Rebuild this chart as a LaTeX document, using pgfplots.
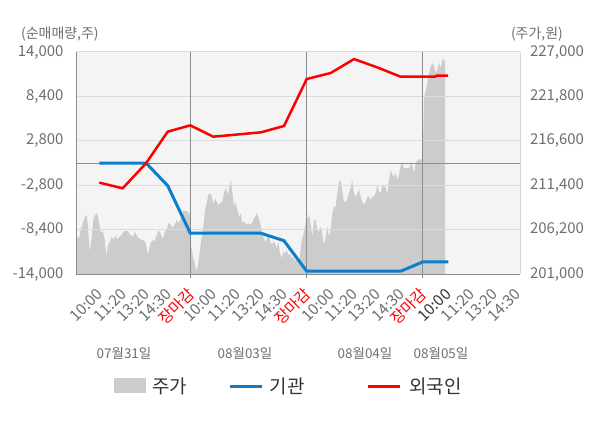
\documentclass[border=0pt]{standalone}
\usepackage{pgfplots}
\pgfplotsset{compat=1.18}
\usepackage{fontspec}
\setmainfont{Noto Sans CJK KR}
\definecolor{bgc}{HTML}{F4F4F4}
\definecolor{gridc}{HTML}{DCDCDC}
\definecolor{darkc}{HTML}{8C8C8C}
\definecolor{lightline}{HTML}{D8D8D8}
\definecolor{areac}{HTML}{CCCCCC}
\definecolor{bluec}{HTML}{0B7FCB}
\definecolor{redc}{HTML}{FF0000}
\definecolor{tickc}{HTML}{6E6E6E}
\definecolor{legc}{HTML}{333333}
\begin{document}
\begin{tikzpicture}[x=1bp,y=1bp]
\useasboundingbox (0,0) rectangle (600,428);
% ---------- price axis (right) ----------
\begin{axis}[
  at={(76bp,154bp)}, anchor=south west,
  width=444bp, height=222bp, scale only axis,
  xmin=76, xmax=520, ymin=201000, ymax=227000,
  axis background/.style={fill=bgc},
  axis x line=none,
  axis y line*=right,
  y axis line style={draw=lightline, -},
  ytick={201000,206200,211400,216600,221800,227000},
  major tick length=0pt,
  scaled y ticks=false,
  yticklabel style={font=\fontsize{15}{17}\selectfont, text=tickc, xshift=6.5bp},
  /pgf/number format/fixed,
  /pgf/number format/1000 sep={,},
  /pgf/number format/assume math mode=true,
]
\addplot[fill=areac, draw=none] coordinates {
(75.7,201000)
(75.7,203600)(77.3,205350)(79,205200)(80.7,206150)(83,206950)(85,207700)(86.7,207900)(88,206550)
(89.7,203600)(91.3,204800)(93.3,207300)(95,207900)(97.3,208100)(99,206950)(100.7,205950)(103,205950)
(104.7,205000)(106.3,203050)(108,204400)(110,204800)(111.7,205350)(113.3,205000)(115.7,205550)(117.3,205000)
(119.3,205350)(121.7,205550)(124,206050)(126.3,206050)(128.3,205950)(130.7,205550)(133,205350)(135,205950)
(137.3,205350)(139,205200)(141.3,205000)(144,204900)(145.7,204600)(148,203200)(150,204400)(152.3,205000)
(154,204800)(156.3,205350)(158,206050)(160,205950)(161.7,205350)(163.3,205200)(164.7,205950)(166.7,206150)
(168.3,206950)(170.7,206800)(172.3,206350)(174.7,206750)(176.7,207300)(179,206950)(181.3,207700)(183.3,208400)
(185.7,208400)(188,208300)(190,207900)(191,204200)(192.3,203600)(193.3,202850)(194.7,202250)(196.3,201250)
(198,202050)(200,203800)(201.7,205350)(203.3,206550)(205,208500)(206.7,209300)(208.3,210250)(210,210450)
(211.7,210050)(213.3,209100)(215,209850)(216.7,209450)(218.3,209100)(220,209300)(222.3,209450)(224.3,210650)
(226,211050)(227.7,210250)(229.3,211200)(230.7,212000)(232.3,210650)(234,208900)(235.7,209450)(237.3,208500)
(239,207700)(240.7,208100)(242.3,206950)(244.3,207150)(246,206750)(248.3,206950)(250.7,206750)(252.7,207150)
(255,207700)(256.7,208100)(258.3,207700)(260,206950)(261.7,206150)(263.3,205350)(265,204800)(266.7,205000)
(268.3,205550)(270,205000)(271.7,204400)(273.3,204800)(275,204600)(276.7,204000)(278.3,204800)(280,203400)
(281.7,202850)(283.3,203600)(285,203400)(286.7,203800)(288.3,203200)(290,203400)(291.7,202850)(293.3,203050)
(295,202450)(296.7,203050)(298.3,202050)(300,203200)(301.7,205000)(303.3,205550)(305,206550)(306.7,207550)
(308.3,207500)(309,208100)(310.7,206750)(312.3,205350)(314,207300)(315.7,207300)(317.3,206150)(319,205950)
(320.7,206550)(322.3,205750)(324,204400)(325.7,205350)(327.3,206550)(329,205350)(330.7,206150)(332.3,208100)
(334,208900)(335.7,208900)(337.3,210450)(339,211800)(340.7,212000)(342.3,210650)(344,209450)(345.7,209450)
(347.3,209850)(349,210450)(350.7,211200)(352.3,212000)(354,210450)(355.7,210050)(357.3,210450)(359,210850)
(360.7,210050)(362.3,209450)(364,209100)(365.7,209450)(367.3,210050)(369,210050)(370.7,209650)(372.3,210050)
(374,210050)(375.7,210450)(377.3,211400)(379,210650)(380.7,210450)(382.3,211400)(384,211200)(385.7,211200)
(387.3,210250)(389,212000)(390.7,213200)(392.3,212600)(394,212400)(395.7,212800)(397.3,212000)(399,212600)
(400.7,213750)(402.3,213950)(404,213400)(405.7,213400)(407.3,213400)(409,213400)(410.7,213950)(412.3,213750)
(414,212800)(415.7,213950)(417.3,214350)(419,214450)(420.7,214350)(422.7,214550)(424,221600)(426,222550)
(428.3,224100)(430.7,225300)(432.7,225700)(434.7,225100)(436,224500)(437.3,224900)(439,225700)(440.7,225100)
(442.3,226050)(443.3,226250)(444.3,225850)(445,226050)
(445,201000)
} \closedcycle;
\end{axis}
% ---------- net volume axis (left) ----------
\begin{axis}[
  at={(76bp,154bp)}, anchor=south west,
  width=444bp, height=222bp, scale only axis,
  xmin=76, xmax=520, ymin=-14000, ymax=14000,
  axis x line*=bottom, axis y line*=left,
  axis line style={draw=darkc, -},
  ytick={-14000,-8400,-2800,2800,8400,14000},
  ymajorgrids, major grid style={draw=gridc, line width=1bp},
  extra y ticks={0}, extra y tick labels={},
  extra y tick style={major grid style={draw=darkc, line width=1bp}},
  xtick={99.3,122.7,146,167.7,190.3,213.3,237,261,284,306.7,330.7,354,377,400.7,422.7,447.3,470.5,493.7,516.9},
  xticklabels={10:00,11:20,13:20,14:30,\textcolor{redc}{장마감},10:00,11:20,13:20,14:30,\textcolor{redc}{장마감},10:00,11:20,13:20,14:30,\textcolor{redc}{장마감},\textcolor{legc}{10:00},11:20,13:20,14:30},
  extra x ticks={190.3,306.7,422.7}, extra x tick labels={},
  extra x tick style={xmajorgrids=true, major grid style={draw=darkc, line width=1bp}, major tick length=4bp, tick align=outside, tick style={draw=darkc, line width=1bp}},
  major tick length=0pt,
  scaled y ticks=false,
  yticklabel style={font=\fontsize{15}{17}\selectfont, text=tickc, xshift=-9bp},
  xticklabel style={font=\fontsize{15.5}{17}\selectfont, text=tickc, inner sep=0pt, yshift=-17.5bp, xshift=1bp, rotate=45, anchor=east},
  /pgf/number format/fixed,
  /pgf/number format/1000 sep={,},
  /pgf/number format/assume math mode=true,
]
\addplot[bluec, line width=3bp] coordinates {
(99.3,0)(122.7,0)(146,0)(167.7,-2860)(190.3,-8860)(213.3,-8860)(237,-8860)(261,-8860)(284,-9800)
(306.7,-13650)(330.7,-13650)(354,-13650)(377,-13650)(400.7,-13650)(422.7,-12480)(448.3,-12480)
};
\addplot[redc, line width=2.5bp] coordinates {
(99.3,-2480)(122.7,-3190)(146,-40)(167.7,3950)(190.3,4750)(213.3,3320)(237,3590)(261,3870)(284,4670)
(306.7,10590)(330.7,11350)(354,13110)(377,12070)(400.7,10880)(422.7,10880)(435,10880)(436.5,11010)(448,11010)
};
\end{axis}
% ---------- titles ----------
\node[anchor=west, inner sep=0pt, text=tickc, font=\fontsize{14}{16}\selectfont] at (21,394) {(순매매량,주)};
\node[anchor=east, inner sep=0pt, text=tickc, font=\fontsize{14}{16}\selectfont] at (563,394) {(주가,원)};
% ---------- dates ----------
\foreach \xx/\tt in {124/07월31일, 245/08월03일, 365/08월04일, 441/08월05일}
  \node[inner sep=0pt, text=tickc, font=\fontsize{13.5}{16}\selectfont] at (\xx,75) {\tt};
% ---------- legend ----------
\fill[areac] (114,34.7) rectangle (145.7,49.7);
\node[anchor=west, inner sep=0pt, text=legc, font=\fontsize{19}{21}\selectfont] at (152,42) {주가};
\draw[bluec, line width=3bp] (230,42) -- (261.7,42);
\node[anchor=west, inner sep=0pt, text=legc, font=\fontsize{19}{21}\selectfont] at (269.5,42) {기관};
\draw[redc, line width=3bp] (368.3,42) -- (400,42);
\node[anchor=west, inner sep=0pt, text=legc, font=\fontsize{19}{21}\selectfont] at (409,42) {외국인};
\end{tikzpicture}
\end{document}
